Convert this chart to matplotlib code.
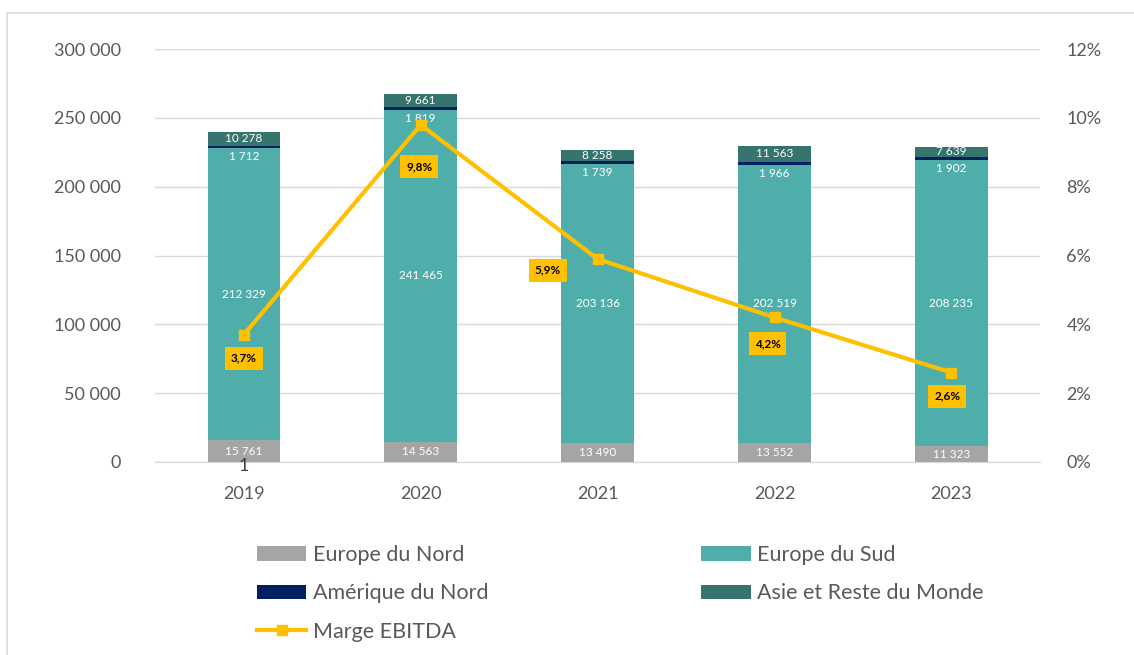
import matplotlib
matplotlib.use('Agg')
import matplotlib.pyplot as plt
from matplotlib.ticker import FuncFormatter, MultipleLocator
from matplotlib.patches import Rectangle
import numpy as np

plt.rcParams['font.family'] = ['Lato', 'DejaVu Sans']

# Data
years = ['2019', '2020', '2021', '2022', '2023']
europe_nord = [15761, 14563, 13490, 13552, 11323]
europe_sud = [212329, 241465, 203136, 202519, 208235]
amerique_nord = [1712, 1819, 1739, 1966, 1902]
asie_reste = [10278, 9661, 8258, 11563, 7639]
marge_ebitda = [3.7, 9.8, 5.9, 4.2, 2.6]
marge_labels = ['3,7%', '9,8%', '5,9%', '4,2%', '2,6%']

# Colours
C_NORD = '#A5A5A5'
C_SUD = '#50AEAA'
C_AMN = '#002060'
C_ASIE = '#36756F'
C_LINE = '#FFC000'
C_TXT = '#595959'
C_GRID = '#D9D9D9'


def fmt_space(v):
    return f'{int(round(v)):,}'.replace(',', ' ')


fig = plt.figure(figsize=(11.34, 6.55), dpi=100)
ax = fig.add_axes([0.137, 0.2947, 0.78, 0.6303])

x = np.arange(len(years))
w = 0.41
series = [
    ('Europe du Nord', europe_nord, C_NORD),
    ('Europe du Sud', europe_sud, C_SUD),
    ('Amérique du Nord', amerique_nord, C_AMN),
    ('Asie et Reste du Monde', asie_reste, C_ASIE),
]
bottom = np.zeros(len(years))
handles = {}
for name, vals, col in series:
    vals = np.array(vals, dtype=float)
    b = ax.bar(x, vals, w, bottom=bottom, color=col, label=name, zorder=2)
    handles[name] = b
    for xi, v, b0 in zip(x, vals, bottom):
        yc = b0 + v / 2
        if name == 'Amérique du Nord':
            # tiny segment: label sits just below it
            ax.annotate(fmt_space(v), (xi, b0 + v), xytext=(0, -8),
                        textcoords='offset points', ha='center', va='center',
                        fontsize=8.5, color='white', zorder=4)
        else:
            ax.text(xi, yc, fmt_space(v), ha='center', va='center',
                    fontsize=8.5, color='white', zorder=4)
    bottom += vals

ax.set_ylim(0, 300000)
ax.set_xlim(-0.5, len(years) - 0.5)
ax.yaxis.set_major_locator(MultipleLocator(50000))
ax.yaxis.set_major_formatter(FuncFormatter(lambda v, p: fmt_space(v)))
ax.set_xticks(x)
ax.set_xticklabels(years)
ax.grid(axis='y', color=C_GRID, linewidth=1, zorder=0)
ax.set_axisbelow(True)
for s in ['top', 'right', 'left']:
    ax.spines[s].set_visible(False)
ax.spines['bottom'].set_color(C_GRID)
ax.tick_params(axis='both', length=0, labelsize=13, colors=C_TXT)
ax.tick_params(axis='x', pad=17)
ax.tick_params(axis='y', pad=25)

# Secondary axis
ax2 = ax.twinx()
ax2.set_ylim(0, 12)
ax2.yaxis.set_major_locator(MultipleLocator(2))
ax2.yaxis.set_major_formatter(FuncFormatter(lambda v, p: f'{v:.0f}%'))
for s in ax2.spines.values():
    s.set_visible(False)
ax2.tick_params(axis='y', length=0, labelsize=13, colors=C_TXT, pad=19)
line, = ax2.plot(x, marge_ebitda, color=C_LINE, lw=3, marker='s',
                 markersize=7, label='Marge EBITDA', zorder=5)

label_offsets = [(0, -17), (-1, -30), (-36, -8), (-5, -19), (-3, -17)]
for xi, v, lab, off in zip(x, marge_ebitda, marge_labels, label_offsets):
    ax2.annotate(lab, (xi, v), xytext=off, textcoords='offset points',
                 ha='center', va='center', fontsize=8.5, fontweight='bold',
                 color='black', zorder=6,
                 bbox=dict(boxstyle='square,pad=0.5', fc=C_LINE, ec='none'))

# stray label under 2019 bar
ax.text(0, -3000, '1', ha='center', va='center', fontsize=13, color='#404040')

# Legend (column-major ordering)
order = [handles['Europe du Nord'], handles['Amérique du Nord'], line,
         handles['Europe du Sud'], handles['Asie et Reste du Monde']]
labels = ['Europe du Nord', 'Amérique du Nord', 'Marge EBITDA',
          'Europe du Sud', 'Asie et Reste du Monde']
leg = fig.legend(order, labels, ncol=2, loc='upper left',
                 bbox_to_anchor=(0.2266, 0.168), frameon=False, fontsize=15.5,
                 labelcolor=C_TXT, handlelength=2.3, handleheight=0.65,
                 handletextpad=0.28, columnspacing=9.9, labelspacing=0.85,
                 borderpad=0, borderaxespad=0)

# Outer frame
fig.patches.append(Rectangle((7 / 1134, -0.1), 1.2, 1 - 13 / 655 + 0.1,
                             transform=fig.transFigure, fill=False,
                             ec='#D9D9D9', lw=1.2))

fig.savefig('out.png', dpi=100)
